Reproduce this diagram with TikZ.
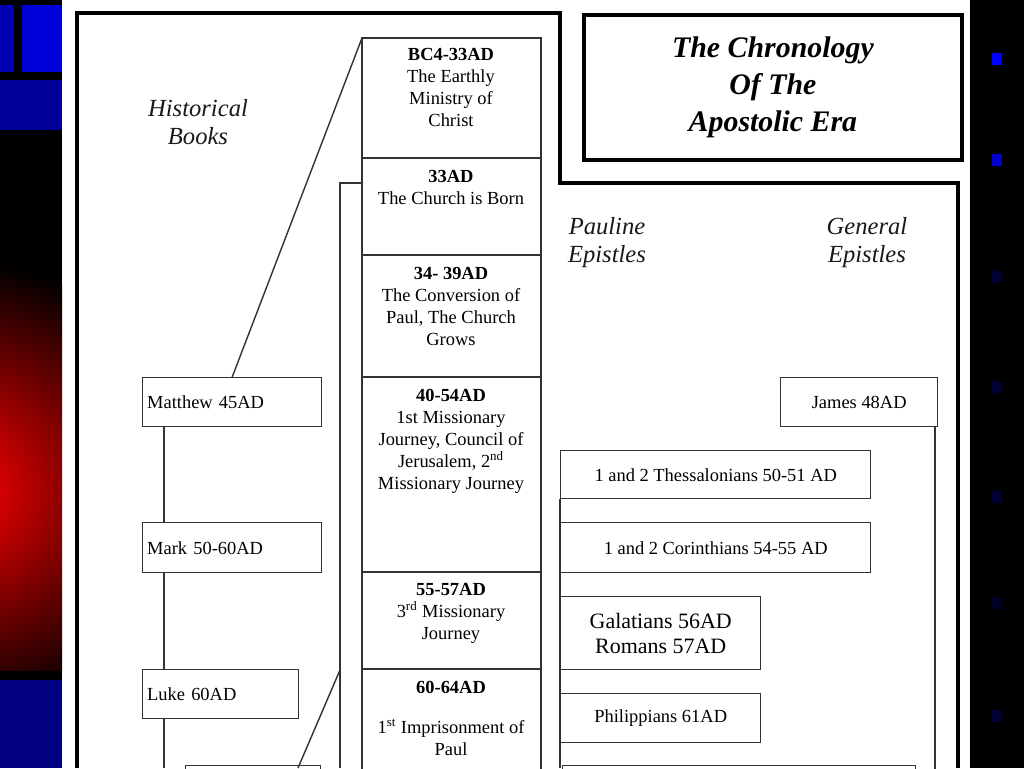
\documentclass[tikz,border=0pt]{standalone}
\usepackage{fontspec}
\setmainfont{Liberation Serif}
\begin{document}
\begin{tikzpicture}[x=0.02cm,y=-0.02cm,
  bx/.style={draw=black!80,line width=0.8pt,fill=white,inner sep=0pt,align=center,font=\fontsize{10.5}{12.5}\selectfont},
  ln/.style={draw=black!80,line width=0.8pt},
  thick frame/.style={draw=black,line width=2.2pt},
  hd/.style={font=\fontsize{14}{16}\selectfont\itshape,align=center,text=black!90}]
\useasboundingbox (0,0) rectangle (1024,768);
\fill[white] (62,0) rectangle (970,768);
% left decoration
\fill[black] (0,0) rectangle (62,768);
\fill[blue!85!black] (22,5) rectangle (62,72);
\fill[blue!70!black] (0,5) rectangle (14,72);
\fill[blue!60!black] (0,80) rectangle (62,130);
\fill[blue!50!black] (0,680) rectangle (62,768);
\begin{scope}
\clip (0,90) rectangle (62,670);
\shade[inner color=red,outer color=black] (-40,490) circle (230);
\end{scope}
% right decoration
\fill[black] (970,0) rectangle (1024,768);
\foreach \y/\c in {59/blue,160/blue!80!black,277/blue!20!black,387/blue!20!black,497/blue!20!black,603/blue!15!black,716/blue!20!black}
  \fill[\c] (992,\y-6) rectangle (1002,\y+6);
% frames
\draw[thick frame] (77,768) -- (77,13) -- (560,13) -- (560,183) -- (958,183) -- (958,768);
\node[thick frame,minimum width=378*0.02cm,minimum height=145*0.02cm,anchor=north west,inner sep=0pt,
  font=\fontsize{17}{21}\selectfont\bfseries\itshape,align=center] (title) at (582,13)
  {The Chronology\\Of The\\Apostolic Era};
% headings
\node[hd] (hist) at (198,122) {Historical\\Books};
\node[hd] (paul) at (607,243) {Pauline\\Epistles};
\node[hd] (gen) at (867,243) {General\\Epistles};
% central column
\draw[ln] (340,768) -- (340,183) -- (362,183);
\foreach \n/\a/\b in {c1/38/158,c2/158/255,c3/255/377,c4/377/572,c5/572/669,c6/669/800}
  \draw[ln] (362,\a) rectangle (541,\b) coordinate (\n);
\node[bx,draw=none,fill=none,anchor=north] (t1) at (451,48) {\textbf{BC4-33AD}\\The Earthly\\Ministry of\\Christ};
\node[bx,draw=none,fill=none,anchor=north] (t2) at (451,170) {\textbf{33AD}\\The Church is Born};
\node[bx,draw=none,fill=none,anchor=north] (t3) at (451,267) {\textbf{34- 39AD}\\The Conversion of\\Paul, The Church\\Grows};
\node[bx,draw=none,fill=none,anchor=north] (t4) at (451,389) {\textbf{40-54AD}\\1st Missionary\\Journey, Council of\\Jerusalem, 2\textsuperscript{nd}\\Missionary Journey};
\node[bx,draw=none,fill=none,anchor=north] (t5) at (451,583) {\textbf{55-57AD}\\3\textsuperscript{rd} Missionary\\Journey};
\node[bx,draw=none,fill=none,anchor=north] (t6) at (451,681) {\textbf{60-64AD}\\[10pt]1\textsuperscript{st} Imprisonment of\\Paul};
% historical books
\node[bx,anchor=north west,minimum width=179*0.02cm,minimum height=49*0.02cm,text width=170*0.02cm,align=left] (mat) at (142,377) {Matthew 45AD};
\node[bx,anchor=north west,minimum width=179*0.02cm,minimum height=50*0.02cm,text width=170*0.02cm,align=left] (mar) at (142,522) {Mark 50-60AD};
\node[bx,anchor=north west,minimum width=156*0.02cm,minimum height=49*0.02cm,text width=147*0.02cm,align=left] (luk) at (142,669) {Luke 60AD};
\node[bx,anchor=north west,minimum width=135*0.02cm,minimum height=30*0.02cm] (hb4) at (185,765) {};
\draw[ln] (mat.south west) ++(22,0) coordinate (v1) -- (v1 |- mar.north);
\draw[ln] (mar.south west) ++(22,0) coordinate (v2) -- (v2 |- luk.north);
\draw[ln] (luk.south west) ++(22,0) coordinate (v3) -- (164,768);
\coordinate (tl) at (362,38);
\draw[ln] (mat.north) -- (tl);
\coordinate (barp) at (340,670);
\draw[ln] (298,768) -- (barp);
% general
\node[bx,anchor=north west,minimum width=157*0.02cm,minimum height=49*0.02cm] (jam) at (780,377) {James 48AD};
\draw[ln] ([xshift=-2]jam.south east) -- ++(0,400);
% pauline
\node[bx,anchor=north west,minimum width=310*0.02cm,minimum height=48*0.02cm] (th) at (560,450) {1 and 2 Thessalonians 50-51 AD};
\node[bx,anchor=north west,minimum width=310*0.02cm,minimum height=50*0.02cm] (co) at (560,522) {1 and 2 Corinthians 54-55 AD};
\node[bx,anchor=north west,minimum width=200*0.02cm,minimum height=73*0.02cm,font=\fontsize{12.5}{14}\selectfont] (ga) at (560,596) {Galatians 56AD\\Romans 57AD};
\node[bx,anchor=north west,minimum width=200*0.02cm,minimum height=49*0.02cm] (ph) at (560,693) {Philippians 61AD};
\node[bx,anchor=north west,minimum width=353*0.02cm,minimum height=30*0.02cm] (pb) at (562,765) {};
\draw[ln] (th.south west) -- (560,768);
\end{tikzpicture}
\end{document}
